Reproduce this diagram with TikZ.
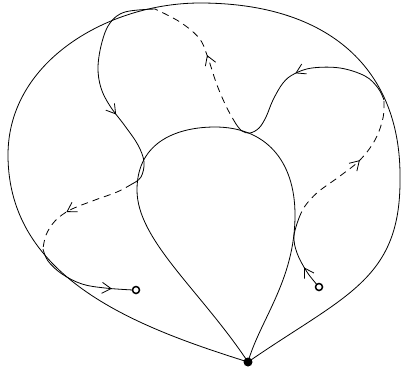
\documentclass[tikz,border=0pt]{standalone}
\usetikzlibrary{arrows.meta,decorations.markings}
\tikzset{
  seg/.style={line width=0.8pt},
  dsh/.style={line width=0.8pt, dash pattern=on 7pt off 5pt},
  midarrow/.style={postaction={decorate}, decoration={markings,
      mark=at position #1 with {\arrow[line width=0.8pt]{Straight Barb[length=9pt,width=11pt]}}}},
  endpt/.style={circle, draw, line width=1.5pt, fill=white, inner sep=0pt, minimum size=7pt},
  basept/.style={circle, fill=black, inner sep=0pt, minimum size=9pt}
}
\begin{document}
\begin{tikzpicture}[x=1pt,y=-1pt]
\useasboundingbox (0,0) rectangle (401,376);
\coordinate (p0) at (248,362);
% outer loop
\draw[seg] (p0) .. controls (140,328) and (8,280) .. (8,155)
  .. controls (8,60) and (110,3) .. (200,3)
  .. controls (330,3) and (401,70) .. (400,178)
  .. controls (401,280) and (345,295) .. (p0);
% inner teardrop
\draw[seg] (p0) .. controls (200,290) and (137,240) .. (137,190)
  .. controls (137,140) and (180,127) .. (215,127)
  .. controls (265,127) and (295,160) .. (295,215)
  .. controls (295,280) and (260,320) .. (p0);
% path pieces
\coordinate (c2) at (319,287);
\coordinate (c1) at (136,290);
\draw[seg, midarrow=0.32] plot[smooth, tension=0.6] coordinates {(319,287) (307,272) (297,253) (294,236) (299,218)};
\draw[dsh, midarrow=0.56] plot[smooth, tension=0.6] coordinates {(299,218) (305,206) (318,192) (340,176) (360,160) (375,140) (383,118) (384,100)};
\draw[seg, midarrow=0.52] plot[smooth, tension=0.6] coordinates {(384,100) (378,88) (365,76) (340,68) (312,68) (294,74) (283,83) (273,100) (266,117) (259,128) (250,133) (242,131) (236,124)};
\draw[dsh, midarrow=0.51] plot[smooth, tension=0.6] coordinates {(236,124) (227,108) (217,85) (207,55) (199,38) (180,22) (155,9)};
\draw[seg, midarrow=0.64] plot[smooth, tension=0.6] coordinates {(155,9) (125,12) (110,23) (102,42) (98,67) (101,88) (110,106) (125,126) (138,145) (144,162) (141,177) (132,184)};
\draw[dsh, midarrow=0.61] plot[smooth, tension=0.6] coordinates {(132,184) (117,192) (95,200) (70,210) (55,221) (46,235) (43,249)};
\draw[seg, midarrow=0.8] plot[smooth, tension=0.6] coordinates {(43,249) (48,261) (62,274) (82,284) (105,288) (133,290)};
\node[endpt] (e2) at (c2) {};
\node[endpt] (e1) at (c1) {};
\node[basept] (p) at (p0) {};
\end{tikzpicture}
\end{document}
